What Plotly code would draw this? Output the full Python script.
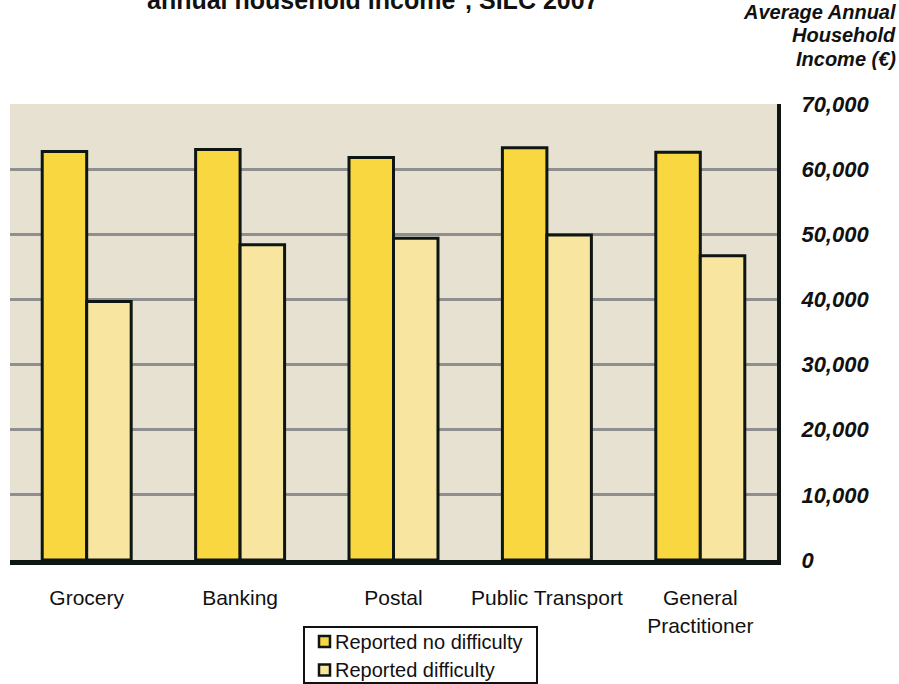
import plotly.graph_objects as go

# Average annual household income (EUR) by access to local services
categories = ["Grocery", "Banking", "Postal", "Public Transport", "General<br>Practitioner"]
no_difficulty = [62700, 63000, 61800, 63300, 62600]
difficulty = [39700, 48400, 49400, 49900, 46700]
series_names = ["Reported no difficulty", "Reported difficulty"]
series_colors = ["#F9D740", "#F8E6A0"]
y_ticks = [0, 10000, 20000, 30000, 40000, 50000, 60000, 70000]
y_tick_labels = ["0", "10,000", "20,000", "30,000", "40,000", "50,000", "60,000", "70,000"]
y_title_lines = ["Average Annual", "Household", "Income (€)"]

FONT = "Arial, Liberation Sans, sans-serif"
OUTLINE = "#0E1613"
TEXT = "#111111"

W, H = 899, 684
M_L, M_R, M_T, M_B = 10, 122, 104, 124
plot_w = W - M_L - M_R
plot_h = H - M_T - M_B


def py(pixel_y):
    """Convert a pixel row (from the top of the page) to paper y."""
    return (H - M_B - pixel_y) / plot_h


def px(pixel_x):
    return (pixel_x - M_L) / plot_w


fig = go.Figure()
for name, values, colour in zip(series_names, [no_difficulty, difficulty], series_colors):
    fig.add_trace(go.Bar(
        x=categories, y=values, name=name,
        marker=dict(color=colour, line=dict(color=OUTLINE, width=3)),
    ))

fig.update_layout(
    width=W, height=H,
    margin=dict(l=M_L, r=M_R, t=M_T, b=M_B, pad=0),
    paper_bgcolor="white",
    plot_bgcolor="#E6E1D0",
    barmode="group",
    bargap=0.42,
    bargroupgap=0,
    font=dict(family=FONT, color=TEXT),
    showlegend=False,
    xaxis=dict(
        showgrid=False,
        showline=True, linecolor=OUTLINE, linewidth=5,
        ticks="outside", ticklen=15, tickcolor="rgba(0,0,0,0)",
        tickfont=dict(size=21, family=FONT, color=TEXT),
        fixedrange=True,
    ),
    yaxis=dict(
        side="right",
        range=[0, 70000],
        tickvals=y_ticks, ticktext=y_tick_labels,
        showgrid=True, gridcolor="#8F8F8F", gridwidth=3,
        zeroline=False,
        showline=True, linecolor=OUTLINE, linewidth=4,
        ticks="outside", ticklen=16, tickcolor="rgba(0,0,0,0)",
        tickfont=dict(size=22, family=FONT, color=TEXT, weight="bold", style="italic"),
        fixedrange=True,
    ),
)

# chart title (second line; the top of the page crops it)
fig.add_annotation(
    text="<b>annual household income<sup>1</sup>, SILC 2007</b>",
    xref="paper", yref="paper", x=px(373), y=py(16),
    xanchor="center", yanchor="bottom", showarrow=False,
    font=dict(size=25, family=FONT, color=TEXT),
)

# value axis title, one right-aligned line at a time for tight spacing
for line, row in zip(y_title_lines, [12, 35.5, 59]):
    fig.add_annotation(
        text=f"<b><i>{line}</i></b>",
        xref="paper", yref="paper", x=px(898), y=py(row),
        xanchor="right", yanchor="middle", align="right", showarrow=False,
        font=dict(size=20, family=FONT, color=TEXT),
    )

# legend box with two swatches, drawn below the category labels
fig.add_shape(
    type="rect", xref="paper", yref="paper",
    x0=px(304), x1=px(537), y0=py(627), y1=py(683),
    line=dict(color=TEXT, width=2), fillcolor="white", layer="above",
)
legend_rows = [641.5, 670]
for name, colour, row in zip(series_names, series_colors, legend_rows):
    fig.add_shape(
        type="rect", xref="paper", yref="paper",
        x0=px(319), x1=px(330), y0=py(row + 5.5), y1=py(row - 5.5),
        line=dict(color=OUTLINE, width=2.5), fillcolor=colour, layer="above",
    )
    fig.add_annotation(
        text=name, xref="paper", yref="paper", x=px(333), y=py(row),
        xanchor="left", yanchor="middle", showarrow=False,
        font=dict(size=20, family=FONT, color=TEXT),
    )

fig.write_html("out.html")
